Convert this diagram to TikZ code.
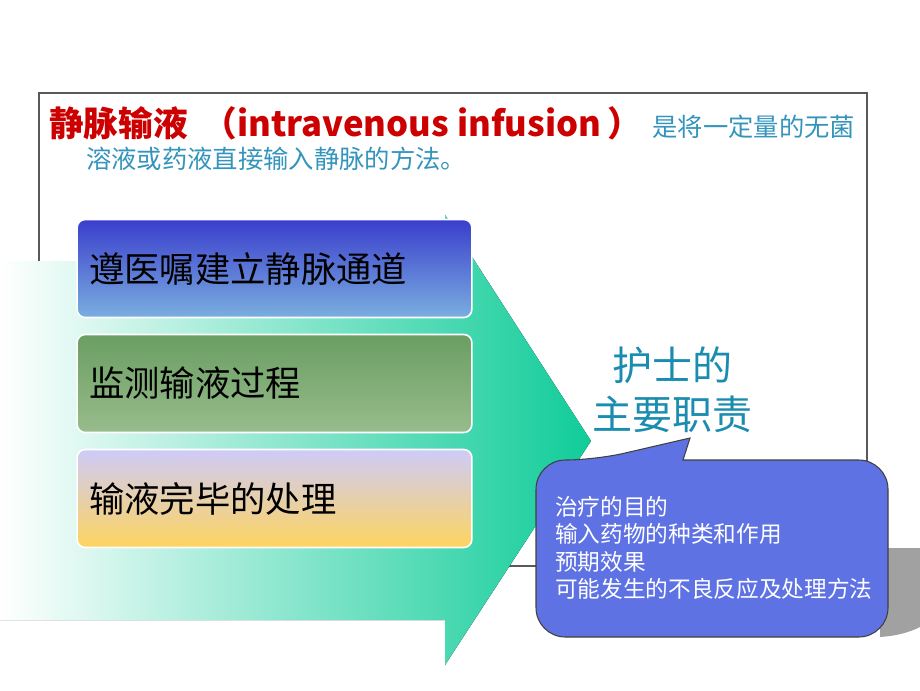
\documentclass[tikz,border=0pt]{standalone}
\usepackage{fontspec}
\setmainfont{Noto Sans CJK SC}
\usetikzlibrary{positioning}

\definecolor{titlered}{RGB}{204,0,0}
\definecolor{defblue}{RGB}{52,148,188}
\definecolor{dutyteal}{RGB}{26,140,176}
\definecolor{arrowteal}{RGB}{16,204,153}
\definecolor{arrowmid}{RGB}{190,240,226}
\definecolor{bluetop}{RGB}{58,62,204}
\definecolor{bluebot}{RGB}{122,174,224}
\definecolor{greentop}{RGB}{106,158,98}
\definecolor{greenbot}{RGB}{152,188,140}
\definecolor{lilactop}{RGB}{206,203,250}
\definecolor{pinkmid}{RGB}{240,206,200}
\definecolor{yellowbot}{RGB}{254,212,94}
\definecolor{calloutfill}{RGB}{94,114,228}

\begin{document}
\begin{tikzpicture}
		[x=0.75pt, y=-0.75pt,
		txt/.style = {inner sep=0pt},
		task/.style = {draw=white, line width=1.2pt, rectangle, rounded corners=6pt,
			minimum width=296pt, minimum height=73.5pt, text width=278pt, align=left,
			font=\fontsize{26.5}{30}\selectfont},
		frame/.style = {draw=black!65, line width=0.8pt}]
		
		\useasboundingbox (0,0) rectangle (920,690);
		
		% frame and definition
		\draw[frame] (39,93) rectangle (867,566);
		\node[txt, anchor=base west, text=titlered, font=\fontsize{26}{30}\selectfont\bfseries]
			(term) at (49,136) {静脉输液\hspace{11pt}（intravenous infusion\hspace{5pt}）};
		\node[txt, anchor=base west, text=defblue, font=\fontsize{19}{22}\selectfont]
			(defn) at ([xshift=7pt]term.base east) {是将一定量的无菌};
		\node[txt, anchor=base west, text=defblue, font=\fontsize{19}{22}\selectfont]
			(defn2) at (86,168) {溶液或药液直接输入静脉的方法。};
		
		% big arrow
		\fill[left color=white, middle color=arrowmid, right color=arrowteal]
			(0,261) -- (445,261) -- (445,215) -- (591,441) -- (445,665) -- (445,620) -- (0,620) -- cycle;
		
		\node[task, top color=bluetop, bottom color=bluebot] (open) at (274.5,268.5) {遵医嘱建立静脉通道};
		\node[task, top color=greentop, bottom color=greenbot] (watch) at (274.5,383.5) {监测输液过程};
		\node[task, top color=lilactop, middle color=pinkmid, bottom color=yellowbot] (finish) at (274.5,498.5) {输液完毕的处理};
		
		\node[align=center, text=dutyteal, font=\fontsize{30}{37}\selectfont] (duty) at (672,390) {护士的\\主要职责};
		
		% shadow and callout
		\fill[black!37] (880,548) -- (920,548) -- (920,627) .. controls (908,633) and (895,636) .. (880,637) -- cycle;
		\coordinate (tip) at (690,438);
		\draw[fill=calloutfill, draw=black!75, line width=0.8pt, rounded corners=22pt]
			(750,460) -- (888,460) -- (888,637) -- (536,637) -- (536,460) -- (595,460)
			[sharp corners] -- (tip) -- (683,460) -- cycle;
		\node[txt, anchor=west, align=left, text=white, font=\fontsize{17}{20.6}\selectfont]
			(tasks) at (555,548) {治疗的目的\\输入药物的种类和作用\\预期效果\\可能发生的不良反应及处理方法};
	\end{tikzpicture}
\end{document}
